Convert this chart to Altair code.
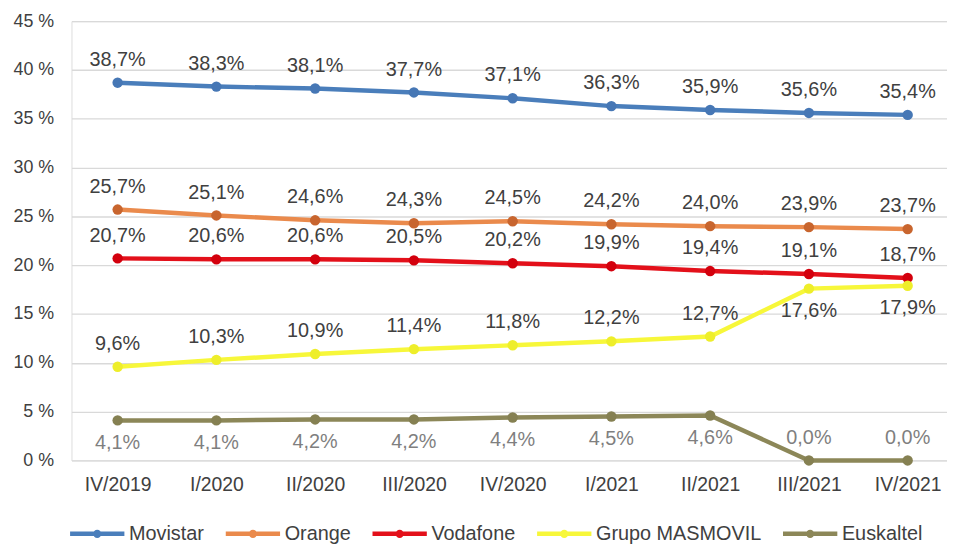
import altair as alt
import pandas as pd

quarters = ["IV/2019", "I/2020", "II/2020", "III/2020", "IV/2020",
            "I/2021", "II/2021", "III/2021", "IV/2021"]
series = ["Movistar", "Orange", "Vodafone", "Grupo MASMOVIL", "Euskaltel"]
movistar = [38.7, 38.3, 38.1, 37.7, 37.1, 36.3, 35.9, 35.6, 35.4]
orange = [25.7, 25.1, 24.6, 24.3, 24.5, 24.2, 24.0, 23.9, 23.7]
vodafone = [20.7, 20.6, 20.6, 20.5, 20.2, 19.9, 19.4, 19.1, 18.7]
masmovil = [9.6, 10.3, 10.9, 11.4, 11.8, 12.2, 12.7, 17.6, 17.9]
euskaltel = [4.1, 4.1, 4.2, 4.2, 4.4, 4.5, 4.6, 0.0, 0.0]
line_colors = ["#4a7ebb", "#ea8a4c", "#e3101a", "#f7f73a", "#8c8758"]
marker_colors = ["#4677b5", "#c8652e", "#d3000d", "#eeee2a", "#858052"]
# which labels sit below their point
labels_below = {"Euskaltel": quarters[:7], "Grupo MASMOVIL": ["III/2021", "IV/2021"]}

rows = []
for name, vals in zip(series, [movistar, orange, vodafone, masmovil, euskaltel]):
    for q, v in zip(quarters, vals):
        rows.append({"serie": name, "trimestre": q, "valor": v,
                     "pos": "below" if q in labels_below.get(name, []) else "above"})
df = pd.DataFrame(rows)

FONT = "Liberation Sans"
legend_path = ("M-1,0H1 "
               "M0.07,0A0.07,0.07,0,1,1,-0.07,0A0.07,0.07,0,1,1,0.07,0Z")

x = alt.X("trimestre:N", sort=quarters, title=None,
          scale=alt.Scale(type="point", padding=0.433, align=0.54),
          axis=alt.Axis(labelAngle=0, labelFontSize=19.5, labelColor="#404040",
                        labelFont=FONT, ticks=False, domain=False, grid=False,
                        labelPadding=15))
y = alt.Y("valor:Q", title=None,
          scale=alt.Scale(domain=[0, 45], nice=False),
          axis=alt.Axis(values=list(range(0, 50, 5)), labelExpr="datum.value + ' %'",
                        labelFontSize=18, labelColor="#404040", labelFont=FONT,
                        ticks=False, domain=False, gridColor="#d9d9d9",
                        gridWidth=1.3, labelPadding=18))
color = alt.Color("serie:N", sort=series,
                  scale=alt.Scale(domain=series, range=line_colors),
                  legend=alt.Legend(title=None, orient="none", direction="horizontal",
                                    legendX=-4, legendY=487,
                                    symbolType=legend_path, symbolSize=3000,
                                    symbolStrokeWidth=4.5, labelFontSize=20,
                                    labelFont=FONT, labelColor="#404040",
                                    labelLimit=400,
                                    columnPadding=12, labelOffset=2,
                                    symbolOpacity=1))

base = alt.Chart(df).encode(x=x, y=y)
lines = base.mark_line(strokeWidth=4.5).encode(color=color)
points = base.mark_point(filled=True, size=110, opacity=1).encode(
    color=alt.Color("serie:N", sort=series,
                    scale=alt.Scale(domain=series, range=marker_colors),
                    legend=None))

label_text = "replace(format(datum.valor, '.1f'), '.', ',') + '%'"
label_color = alt.condition(alt.datum.serie == "Euskaltel", alt.value("#7f7f7f"),
                            alt.value("#404040"))
above = base.transform_filter(alt.datum.pos == "above").transform_calculate(
    lab=label_text).mark_text(dy=-23, fontSize=20, font=FONT).encode(
    text="lab:N", color=label_color)
below = base.transform_filter(alt.datum.pos == "below").transform_calculate(
    lab=label_text).mark_text(dy=23, fontSize=20, font=FONT).encode(
    text="lab:N", color=label_color)

chart = alt.layer(lines, points, above, below).resolve_scale(color="independent").properties(
    width=883, height=443,
    autosize=alt.AutoSizeParams(type="none"),
    padding={"left": 64, "top": 11, "right": 0, "bottom": 84},
).configure_view(stroke=None).configure(background="white")

chart.save("out.html", embed_options={"renderer": "svg", "actions": False})
